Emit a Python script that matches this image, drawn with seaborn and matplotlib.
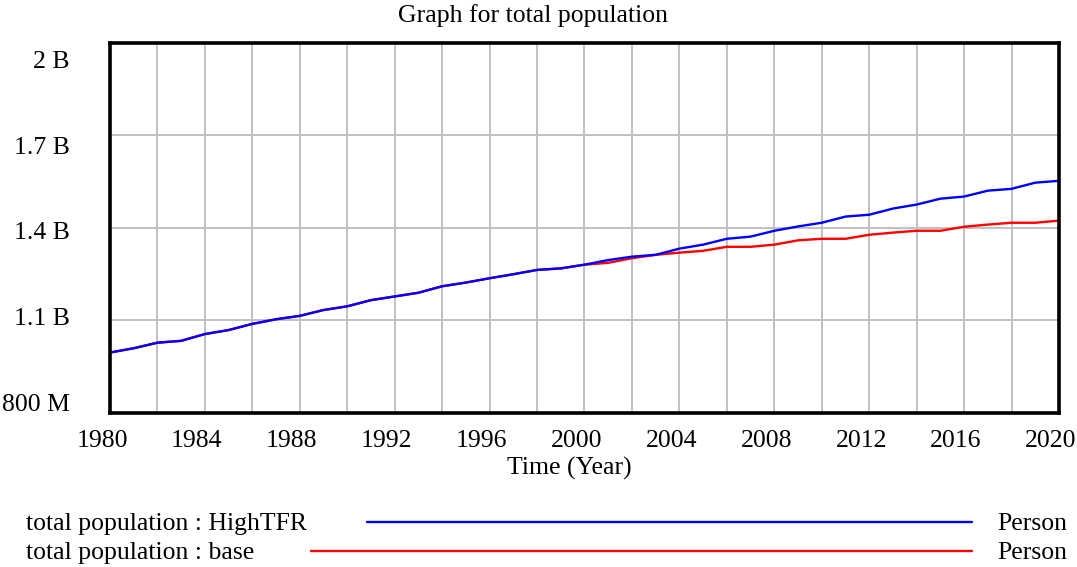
import numpy as np
import pandas as pd
import matplotlib
matplotlib.use("Agg")
import matplotlib.pyplot as plt
import seaborn as sns
from matplotlib.lines import Line2D
from matplotlib.ticker import FixedLocator
from matplotlib.transforms import ScaledTranslation

# ------------------------------
# Data (billions of people)
# ------------------------------
years = list(range(1980, 2021))

high_tfr = [
    0.996, 1.010, 1.028, 1.034, 1.056, 1.069, 1.089, 1.104, 1.115, 1.134,
    1.146, 1.166, 1.178, 1.190, 1.211, 1.223, 1.237, 1.250, 1.264, 1.269,
    1.281, 1.296, 1.307, 1.313, 1.333, 1.346, 1.365, 1.372, 1.391, 1.405,
    1.417, 1.437, 1.443, 1.463, 1.476, 1.495, 1.502, 1.521, 1.527, 1.547,
    1.553,
]

base = [
    0.996, 1.010, 1.028, 1.034, 1.056, 1.069, 1.089, 1.104, 1.115, 1.134,
    1.146, 1.166, 1.178, 1.190, 1.211, 1.223, 1.237, 1.250, 1.264, 1.269,
    1.281, 1.287, 1.302, 1.313, 1.320, 1.326, 1.339, 1.339, 1.346, 1.360,
    1.365, 1.365, 1.378, 1.385, 1.391, 1.391, 1.404, 1.411, 1.417, 1.417,
    1.424,
]

series_names = ["total population : base", "total population : HighTFR"]
series_colors = ["#ff0000", "#0000ff"]

y_ticks = [0.8, 1.1, 1.4, 1.7, 2.0]
y_tick_labels = ["800 M", "1.1 B", "1.4 B", "1.7 B", "2 B"]
x_ticks = list(range(1980, 2021, 4))

df = pd.DataFrame({
    "year": years * 2,
    "population": base + high_tfr,
    "series": [series_names[0]] * len(years) + [series_names[1]] * len(years),
})

# ------------------------------
# Figure
# ------------------------------
sns.set_style("white")
plt.rcParams["font.family"] = ["Liberation Serif", "DejaVu Serif"]
plt.rcParams["text.color"] = "black"
plt.rcParams["xtick.color"] = "black"
plt.rcParams["ytick.color"] = "black"
FS = 18.5

fig = plt.figure(figsize=(10.77, 5.67), dpi=100)
ax = fig.add_axes([0.1021, 0.2716, 0.8812, 0.6526])

sns.lineplot(
    data=df, x="year", y="population", hue="series",
    hue_order=series_names, palette=series_colors,
    linewidth=1.7, legend=False, ax=ax,
)

ax.set_xlim(1980, 2020)
ax.set_ylim(0.8, 2.0)

# grid: every 2 years vertically, every 0.3 B horizontally
ax.xaxis.set_minor_locator(FixedLocator(list(range(1980, 2021, 2))))
ax.set_xticks(x_ticks)
ax.set_xticklabels([str(x) for x in x_ticks], fontsize=FS)
ax.set_yticks(y_ticks)
ax.set_yticklabels(y_tick_labels, fontsize=FS)
ax.grid(True, which="both", color="#c0c0c0", linewidth=1.4)
ax.set_axisbelow(True)
ax.tick_params(axis="both", which="both", length=0, labelcolor="black")
ax.tick_params(axis="x", pad=12)
ax.tick_params(axis="y", pad=29)

for spine in ax.spines.values():
    spine.set_visible(True)
    spine.set_color("black")
    spine.set_linewidth(2.6)

ax.set_xlabel("")
ax.set_ylabel("")

# Vensim style label placement: x labels sit a bit left, y labels are squeezed inward
for lab in ax.get_xticklabels():
    lab.set_transform(lab.get_transform() + ScaledTranslation(-0.08, 0, fig.dpi_scale_trans))
y_shift_px = [11, 4, -3, -10, -17]
for lab, dy in zip(ax.get_yticklabels(), y_shift_px):
    lab.set_transform(lab.get_transform() + ScaledTranslation(0, dy / 100, fig.dpi_scale_trans))

fig.text(0.495, 0.972, "Graph for total population", ha="center", va="center",
         fontsize=FS, color="black")
fig.text(0.529, 0.174, "Time (Year)", ha="center", va="center", fontsize=FS, color="black")

# legend rows at the bottom, drawn like the original tool does
legend_rows = [
    (series_names[1], series_colors[1], 367, 0.0760),
    (series_names[0], series_colors[0], 311, 0.0250),
]
for label, color, x_start, y_pos in legend_rows:
    fig.text(26 / 1077, y_pos, label, ha="left", va="center", fontsize=FS, color="black")
    fig.add_artist(Line2D([x_start / 1077, 972 / 1077], [y_pos + 0.004, y_pos + 0.004],
                          transform=fig.transFigure, color=color, linewidth=1.7))
    fig.text(997 / 1077, y_pos, "Person", ha="left", va="center", fontsize=FS, color="black")

fig.savefig("out.png", dpi=100)
